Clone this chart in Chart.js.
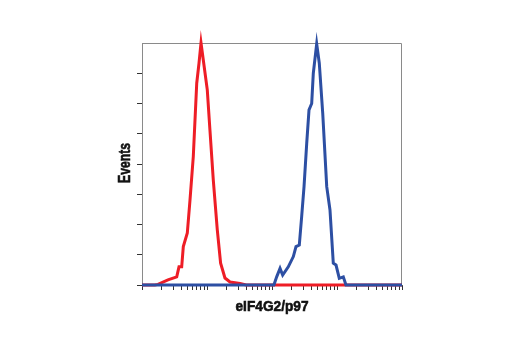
<!DOCTYPE html>
<html>
<head>
<meta charset="utf-8">
<style>
html,body{margin:0;padding:0;background:#fff;}
canvas{display:block;}
</style>
<script src="https://cdn.jsdelivr.net/npm/chart.js@4.4.0/dist/chart.umd.min.js"></script>
</head>
<body>
<canvas id="c" width="520" height="350"></canvas>
<script>
// Fluorescence intensity (log axis) and event counts
const redX = [1, 1.58, 1.76, 2.51, 3.42, 3.71, 4.08, 4.32, 4.98, 5.47, 6.15, 6.95, 7.53, 8.09, 8.77, 10.1, 11.1, 12.5, 14.4, 16.2, 18.9, 22.6, 32.2, 40, 10000];
const redY = [0, 0, 0.02, 0.17, 0.27, 0.6, 0.6, 1.27, 1.72, 2.8, 4.24, 6.67, 7.33, 8.0, 7.44, 6.45, 5.12, 3.47, 1.82, 0.72, 0.23, 0.1, 0.05, 0, 0];
const blueX = [1, 107, 118, 133, 146, 178, 213, 234, 263, 286, 311, 342, 371, 408, 432, 487, 534, 603, 695, 780, 877, 966, 1084, 1250, 1374, 10000];
const blueY = [0, 0, 0.27, 0.55, 0.33, 0.6, 0.94, 1.27, 1.32, 2.26, 3.25, 4.68, 5.79, 6.0, 7.0, 7.97, 7.33, 5.68, 3.25, 2.48, 0.72, 0.66, 0.22, 0.27, 0, 0];
const xTickValues = [1,2,3,4,5,6,7,8,9,10,20,30,40,50,60,70,80,90,100,200,300,400,500,600,700,800,900,1000,2000,3000,4000,5000,6000,7000,8000,9000,10000];
const yTickValues = [0,1,2,3,4,5,6,7,8];
const xTitle = 'eIF4G2/p97';
const yTitle = 'Events';

const toPts = (xs, ys) => xs.map((x, i) => ({x: x, y: ys[i]}));

const framePlugin = {
  id: 'frame',
  beforeDatasetsDraw(chart) {
    const a = chart.chartArea, ctx = chart.ctx;
    ctx.save();
    ctx.strokeStyle = '#8a8a8a';
    ctx.lineWidth = 1;
    ctx.beginPath();
    ctx.moveTo(a.left + 0.5, a.top + 0.5);
    ctx.lineTo(a.right - 0.5, a.top + 0.5);
    ctx.lineTo(a.right - 0.5, a.bottom);
    ctx.stroke();
    ctx.restore();
  }
};

// Axis titles in a condensed look (horizontally compressed bold text)
function drawCond(ctx, text, size, targetW, x, y, rot) {
  ctx.save();
  ctx.font = "bold " + size + "px 'Liberation Sans', Arial, sans-serif";
  ctx.fillStyle = '#111';
  ctx.strokeStyle = '#111';
  ctx.lineWidth = 0.6;
  ctx.textAlign = 'center';
  ctx.textBaseline = 'alphabetic';
  const sx = targetW / ctx.measureText(text).width;
  ctx.translate(x, y);
  if (rot) ctx.rotate(rot);
  ctx.scale(sx, 1);
  ctx.fillText(text, 0, 0);
  ctx.strokeText(text, 0, 0);
  ctx.restore();
}

const titlePlugin = {
  id: 'condTitles',
  afterDraw(chart) {
    const a = chart.chartArea, ctx = chart.ctx;
    drawCond(ctx, xTitle, 15.5, 73, (a.left + a.right) / 2, a.bottom + 25.5, 0);
    drawCond(ctx, yTitle, 16, 40, a.left - 12.5, (a.top + a.bottom) / 2 - 1, -Math.PI / 2);
  }
};

new Chart(document.getElementById('c'), {
  type: 'line',
  data: {
    datasets: [
      {data: toPts(blueX, blueY), borderColor: '#2d4fa3', borderWidth: 3, pointRadius: 0, tension: 0, clip: false, fill: false},
      {data: toPts(redX, redY), borderColor: '#ee1d26', borderWidth: 3, pointRadius: 0, tension: 0, clip: false, fill: false}
    ]
  },
  options: {
    responsive: false,
    animation: false,
    events: [],
    layout: {padding: {left: 0, top: 43, right: 118, bottom: 0}},
    plugins: {legend: {display: false}, tooltip: {enabled: false}},
    scales: {
      x: {
        type: 'logarithmic',
        min: 1, max: 10000,
        afterBuildTicks(s) { s.ticks = xTickValues.map(v => ({value: v})); },
        afterFit(s) { s.height = 65; },
        ticks: {display: false},
        grid: {drawOnChartArea: false, drawTicks: true, tickLength: 5, color: '#333', lineWidth: 1},
        border: {display: true, color: '#555', width: 1},
        title: {display: false}
      },
      y: {
        min: 0, max: 8,
        afterBuildTicks(s) { s.ticks = yTickValues.map(v => ({value: v})); },
        afterFit(s) { s.width = 142; },
        ticks: {display: false},
        grid: {drawOnChartArea: false, drawTicks: true, tickLength: 5, lineWidth: 1,
               color: (c) => (c.tick && c.tick.value === 8) ? 'rgba(0,0,0,0)' : '#333'},
        border: {display: true, color: '#8a8a8a', width: 1},
        title: {display: false}
      }
    }
  },
  plugins: [framePlugin, titlePlugin]
});
</script>
</body>
</html>
